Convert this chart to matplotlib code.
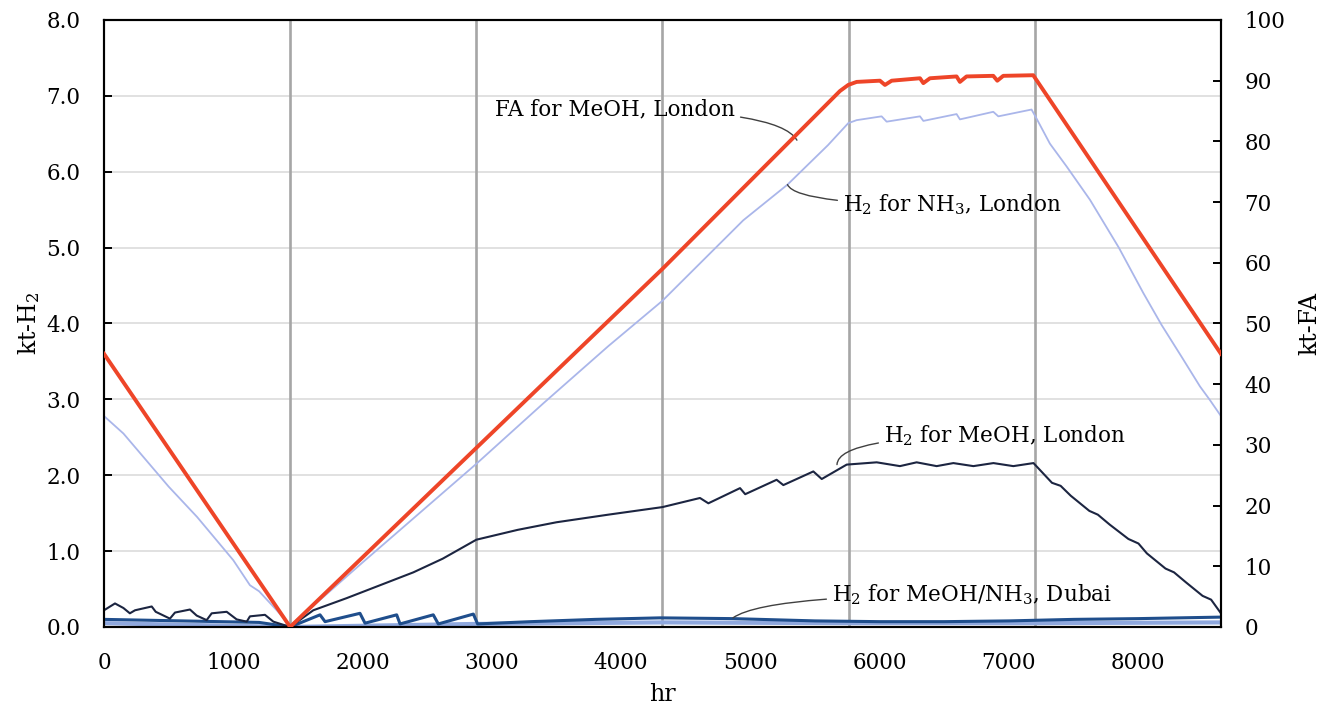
import matplotlib
matplotlib.use("Agg")
import matplotlib.pyplot as plt

# ----------------------------------------------------------------------------
# Data (hours of the year, kt)
# ----------------------------------------------------------------------------
# FA for MeOH, London (right axis, kt-FA)
fa_hr = [0, 1440, 4320, 5693, 5757, 5822, 6002, 6041, 6093, 6312, 6338, 6389,
         6595, 6621, 6672, 6879, 6910, 6956, 7188, 8640]
fa_kt = [45.0, 0.0, 59.0, 88.3, 89.3, 89.8, 90.0, 89.3, 90.0, 90.4, 89.6, 90.4,
         90.7, 89.8, 90.7, 90.8, 90.0, 90.8, 90.9, 45.0]

# H2 for NH3, London (left axis, kt-H2)
nh3_lon_hr = [0, 150, 300, 500, 720, 1000, 1129, 1200, 1336, 1440, 1700, 2000,
              2440, 2880, 3400, 3900, 4320, 4945, 5287, 5600, 5757, 5822, 6015,
              6054, 6312, 6338, 6595, 6621, 6879, 6918, 7175, 7214, 7317, 7446,
              7627, 7850, 8040, 8181, 8336, 8478, 8555, 8640]
nh3_lon_kt = [2.78, 2.55, 2.25, 1.85, 1.45, 0.88, 0.55, 0.47, 0.22, 0.02, 0.40,
              0.85, 1.50, 2.15, 2.95, 3.70, 4.30, 5.36, 5.83, 6.35, 6.64, 6.68,
              6.73, 6.66, 6.73, 6.67, 6.76, 6.69, 6.79, 6.73, 6.82, 6.70, 6.37,
              6.07, 5.63, 5.00, 4.40, 3.98, 3.56, 3.17, 2.99, 2.78]

# H2 for MeOH, London (left axis)
meoh_lon_hr = [0, 85, 150, 200, 240, 369, 400, 510, 549, 665, 717, 794, 833,
               949, 1026, 1104, 1129, 1245, 1310, 1440, 1619, 1877, 2135, 2393,
               2620, 2880, 3200, 3500, 3900, 4320, 4610, 4675, 4920, 4960, 5203,
               5255, 5487, 5552, 5745, 5977, 6157, 6286, 6441, 6570, 6725, 6880,
               7034, 7190, 7333, 7400, 7478, 7622, 7688, 7779, 7924, 8002, 8067,
               8211, 8277, 8368, 8498, 8564, 8640]
meoh_lon_kt = [0.22, 0.31, 0.25, 0.18, 0.22, 0.27, 0.20, 0.11, 0.19, 0.23, 0.15,
               0.09, 0.18, 0.20, 0.10, 0.07, 0.14, 0.16, 0.07, 0.00, 0.22, 0.38,
               0.55, 0.72, 0.90, 1.15, 1.28, 1.38, 1.48, 1.58, 1.70, 1.63, 1.83,
               1.75, 1.94, 1.87, 2.05, 1.95, 2.14, 2.17, 2.12, 2.17, 2.12, 2.16,
               2.12, 2.16, 2.12, 2.16, 1.90, 1.86, 1.73, 1.53, 1.48, 1.35, 1.16,
               1.10, 0.97, 0.77, 0.72, 0.59, 0.41, 0.36, 0.18]

# H2 for MeOH / NH3, Dubai (left axis)
meoh_dub_hr = [0, 300, 600, 900, 1200, 1440, 1671, 1710, 1980, 2019, 2264, 2290,
               2547, 2586, 2857, 2890, 3300, 3800, 4300, 4865, 5500, 6000, 6500,
               7000, 7500, 8000, 8640]
meoh_dub_kt = [0.10, 0.09, 0.08, 0.07, 0.06, 0.00, 0.16, 0.07, 0.18, 0.05, 0.16,
               0.04, 0.16, 0.04, 0.17, 0.04, 0.07, 0.10, 0.12, 0.11, 0.08, 0.07,
               0.07, 0.08, 0.10, 0.11, 0.13]
nh3_dub_hr = [0, 1440, 2880, 4320, 5760, 7200, 8640]
nh3_dub_kt = [0.05, 0.00, 0.04, 0.06, 0.05, 0.05, 0.06]

month_marks = [1440, 2880, 4320, 5760, 7200]
x_ticks = [0, 1000, 2000, 3000, 4000, 5000, 6000, 7000, 8000]

# ----------------------------------------------------------------------------
# Figure
# ----------------------------------------------------------------------------
plt.rcParams['font.family'] = ['DejaVu Serif']
plt.rcParams['mathtext.fontset'] = 'dejavuserif'

fig = plt.figure(figsize=(13.3, 7.09), dpi=100)
ax = fig.add_axes([0.0782, 0.1157, 0.8398, 0.8561])
ax2 = ax.twinx()

# grid
for v in range(1, 8):
    ax.axhline(v, color='#d9d9d9', lw=1.1, zorder=0)
for m in month_marks:
    ax.axvline(m, color='#a6a6a6', lw=1.9, zorder=1)

ax.plot(nh3_dub_hr, nh3_dub_kt, color='#8fa8de', lw=3.0, zorder=2)
ax.plot(meoh_dub_hr, meoh_dub_kt, color='#1f4e8c', lw=2.2, zorder=3)
ax.plot(nh3_lon_hr, nh3_lon_kt, color='#aab6ea', lw=1.3, zorder=3)
ax.plot(meoh_lon_hr, meoh_lon_kt, color='#1c2541', lw=1.5, zorder=4)
ax2.plot(fa_hr, fa_kt, color='#ee4528', lw=2.8, zorder=5)

ax.set_xlim(0, 8640)
ax.set_ylim(0, 8)
ax2.set_ylim(0, 100)
ax.set_xticks(x_ticks)
ax.set_yticks(range(0, 9))
ax.set_yticklabels([f"{v:.1f}" for v in range(0, 9)])
ax2.set_yticks(range(0, 101, 10))

for a in (ax, ax2):
    for s in a.spines.values():
        s.set_linewidth(1.5)
        s.set_color('black')
ax.tick_params(axis='y', direction='in', length=6, width=1.4, pad=17, labelsize=15.5)
ax.tick_params(axis='x', length=0, pad=18, labelsize=15.5)
ax2.tick_params(axis='y', direction='in', length=6, width=1.4, pad=17, labelsize=15.5)

ax.set_xlabel('hr', fontsize=17)
ax.set_ylabel(r'kt-H$_\mathregular{2}$', fontsize=17)
ax2.set_ylabel('kt-FA', fontsize=17)
ax.xaxis.set_label_coords(0.5, -0.092)
ax.yaxis.set_label_coords(-0.0555, 0.5)
ax2.yaxis.set_label_coords(1.069, 0.5)

# callouts
lead = dict(arrowstyle='-', color='#404040', lw=1.0, shrinkB=0)
ax2.annotate('FA for MeOH, London', xy=(5360, 80.2), xytext=(4881, 85.6),
             ha='right', va='center_baseline', fontsize=15.5,
             arrowprops=dict(lead, connectionstyle='angle3,angleA=0,angleB=120'))
ax2.annotate(r'H$_\mathregular{2}$ for NH$_\mathregular{3}$, London',
             xy=(5287, 5.83), xycoords=ax.transData,
             xytext=(5716, 5.60), textcoords=ax.transData,
             ha='left', va='center_baseline', fontsize=15.5,
             arrowprops=dict(lead, connectionstyle='angle3,angleA=0,angleB=114'))
ax2.annotate(r'H$_\mathregular{2}$ for MeOH, London',
             xy=(5670, 2.14), xycoords=ax.transData,
             xytext=(6033, 2.56), textcoords=ax.transData,
             ha='left', va='center_baseline', fontsize=15.5,
             arrowprops=dict(lead, connectionstyle='angle3,angleA=0,angleB=88'))
ax2.annotate(r'H$_\mathregular{2}$ for MeOH/NH$_\mathregular{3}$, Dubai',
             xy=(4865, 0.12), xycoords=ax.transData,
             xytext=(5631, 0.46), textcoords=ax.transData,
             ha='left', va='center_baseline', fontsize=15.5,
             arrowprops=dict(lead, connectionstyle='angle3,angleA=0,angleB=35'))

fig.savefig('out.png', dpi=100)
